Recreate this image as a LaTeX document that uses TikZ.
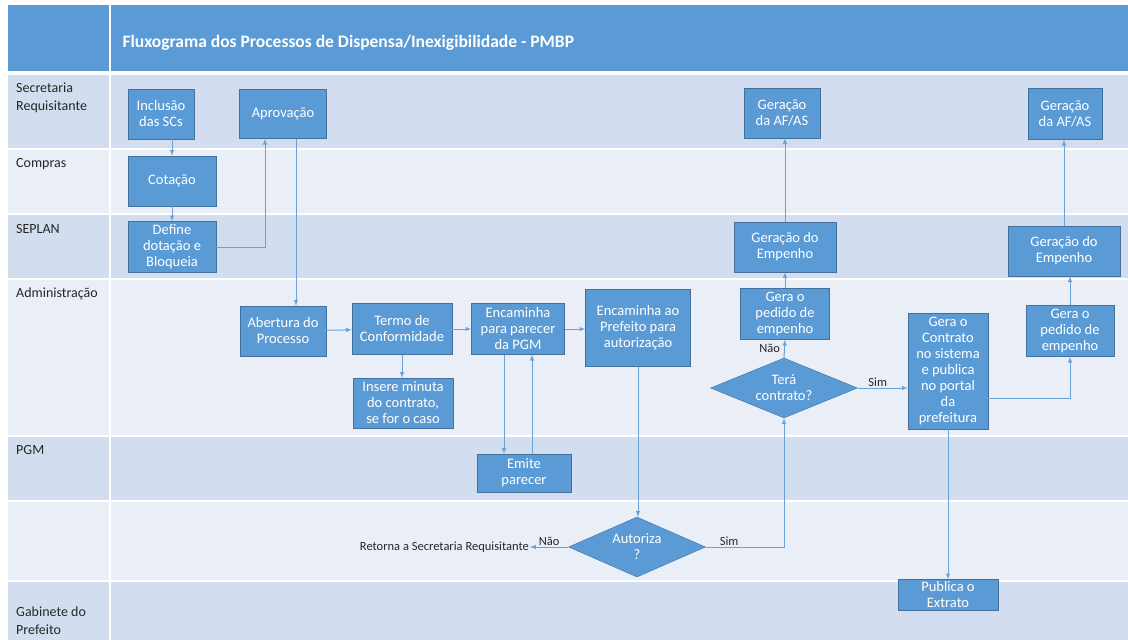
\documentclass[tikz,border=0pt]{standalone}
\usepackage{fontspec}
\setmainfont{Carlito}
\usetikzlibrary{shapes.geometric}

\definecolor{headblue}{HTML}{5B9BD5}
\definecolor{laneDark}{HTML}{D2DEEF}
\definecolor{laneLight}{HTML}{EAEFF7}
\definecolor{boxblue}{HTML}{5B9BD5}
\definecolor{boxline}{HTML}{41719C}
\definecolor{arrowblue}{HTML}{6AA2D8}
\definecolor{labelgray}{HTML}{262626}

\tikzset{
  box/.style={draw=boxline, fill=boxblue, text=white, align=center, inner sep=1pt,
    font=\fontsize{14.5}{16}\selectfont},
  decisao/.style={diamond, aspect=2.4, draw=boxline, fill=boxblue, text=white, align=center,
    inner sep=0pt, font=\fontsize{14.5}{16}\selectfont},
  seta/.style={draw=arrowblue, line width=1pt, -latex},
  lanelabel/.style={anchor=north west, align=left, text=labelgray, inner sep=0pt,
    font=\fontsize{14}{18}\selectfont},
  rotulo/.style={text=labelgray, inner sep=1pt, font=\fontsize{12.5}{14}\selectfont},
}

\begin{document}
\begin{tikzpicture}[x=1pt, y=-1pt]
\useasboundingbox (0,0) rectangle (1128,640);

% Faixas
\fill[headblue] (8,5) rectangle (1128,71);
\fill[laneDark] (8,75) rectangle (1128,148);
\fill[laneLight] (8,150) rectangle (1128,213);
\fill[laneDark] (8,215) rectangle (1128,278);
\fill[laneLight] (8,280) rectangle (1128,435);
\fill[laneDark] (8,437) rectangle (1128,500);
\fill[laneLight] (8,502) rectangle (1128,580);
\fill[laneDark] (8,582) rectangle (1128,640);
\draw[white, line width=2.5pt] (110,5) -- (110,640);

% Titulo e raias
\node[anchor=west, text=white, font=\fontsize{17.5}{20}\selectfont\bfseries] (titulo) at (119,43)
  {Fluxograma dos Processos de Dispensa/Inexigibilidade - PMBP};
\node[lanelabel] (labSecReq) at (16,83) {Secretaria\\Requisitante};
\node[lanelabel] (labCompras) at (16,158) {Compras};
\node[lanelabel] (labSeplan) at (16,224) {SEPLAN};
\node[lanelabel] (labAdm) at (16,288) {Administração};
\node[lanelabel] (labPGM) at (16,445) {PGM};
\node[lanelabel] (labGabinete) at (16,607) {Gabinete do\\Prefeito};

% Caixas
\draw (161,114) node[box, minimum width=66pt, minimum height=50pt] (Inclusao) {Inclusão\\das SCs};
\draw (283,114) node[box, minimum width=87pt, minimum height=49pt] (Aprovacao) {Aprovação};
\draw (172,181) node[box, minimum width=88pt, minimum height=50pt] (Cotacao) {Cotação};
\draw (172,247) node[box, minimum width=88pt, minimum height=51pt] (Define) {Define\\dotação e\\Bloqueia};
\draw (283,331) node[box, minimum width=86pt, minimum height=50pt] (Abertura) {Abertura do\\Processo};
\draw (402,329) node[box, minimum width=100pt, minimum height=51pt] (Termo) {Termo de\\Conformidade};
\draw (518,329) node[box, minimum width=93pt, minimum height=51pt] (EncPGM) {Encaminha\\para parecer\\da PGM};
\draw (638,328) node[box, minimum width=105pt, minimum height=77pt] (EncPrefeito) {Encaminha ao\\Prefeito para\\autorização};
\draw (403,403) node[box, minimum width=100pt, minimum height=50pt] (Insere) {Insere minuta\\do contrato,\\se for o caso};
\draw (524,473) node[box, minimum width=94pt, minimum height=38pt] (Emite) {Emite\\parecer};
\draw (637,547) node[decisao, minimum width=137pt, minimum height=60pt] (Autoriza) {Autoriza\\?};
\draw (530,547) node[rotulo, anchor=east] (Retorna) {Retorna a Secretaria Requisitante};
\draw (784,388) node[decisao, minimum width=147pt, minimum height=60pt] (Tera) {Terá\\contrato?};
\draw (785,314) node[box, minimum width=89pt, minimum height=51pt] (Pedido1) {Gera o\\pedido de\\empenho};
\draw (785,247) node[box, minimum width=102pt, minimum height=50pt] (Empenho1) {Geração do\\Empenho};
\draw (782,113) node[box, minimum width=76pt, minimum height=50pt] (AFAS1) {Geração\\da AF/AS};
\draw (948,371) node[box, minimum width=80pt, minimum height=116pt] (Contrato) {Gera o\\Contrato\\no sistema\\e publica\\no portal\\da\\prefeitura};
\draw (1070,331) node[box, minimum width=88pt, minimum height=51pt] (Pedido2) {Gera o\\pedido de\\empenho};
\draw (1064,251) node[box, minimum width=112pt, minimum height=50pt] (Empenho2) {Geração do\\Empenho};
\draw (1065,114) node[box, minimum width=74pt, minimum height=51pt] (AFAS2) {Geração\\da AF/AS};
\draw (948,595) node[box, minimum width=100pt, minimum height=31pt] (Publica) {Publica o\\Extrato};

% Setas
\draw[seta] (Inclusao.south -| Cotacao.north) -- (Cotacao.north);
\draw[seta] (Cotacao) -- (Define);
\draw[seta] (Define.east) -| ([xshift=-18pt]Aprovacao.south);
\draw[seta] ([xshift=13pt]Aprovacao.south) -- ([xshift=13pt]Aprovacao.south |- Abertura.north);
\draw[seta] (Abertura) -- (Termo);
\draw[seta] (Termo) -- (EncPGM);
\draw[seta] (EncPGM.east) -- (EncPGM.east -| EncPrefeito.west);
\draw[seta] (Termo.south) -- (Insere.north -| Termo.south);
\draw[seta] ([xshift=-14pt]EncPGM.south) -- ([xshift=-14pt]EncPGM.south |- Emite.north);
\draw[seta] ([xshift=8pt]Emite.north) -- ([xshift=8pt]Emite.north |- EncPGM.south);
\draw[seta] (EncPrefeito.south) -- (EncPrefeito.south |- Autoriza.north);
\draw[seta] (Autoriza.west) -- (Retorna.east) node[rotulo, pos=0.5, above] (naoA) {Não};
\draw[seta] (Autoriza.east) -| (Tera.south) node[rotulo, pos=0.15, above] (simA) {Sim};
\draw[seta] (Tera.north) -- (Pedido1.south) node[rotulo, pos=0.5, left=3pt] (naoT) {Não};
\draw[seta] (Pedido1) -- (Empenho1);
\draw[seta] (Empenho1.north) -- (Empenho1.north |- AFAS1.south);
\draw[seta] (Tera.east) -- (Tera.east -| Contrato.west) node[rotulo, pos=0.4, above] (simT) {Sim};
\draw[seta] ([yshift=-27pt]Contrato.east) -| (Pedido2.south);
\draw[seta] (Pedido2.north) -- (Pedido2.north |- Empenho2.south);
\draw[seta] (Empenho2.north) -- (Empenho2.north |- AFAS2.south);
\draw[seta] (Contrato) -- (Publica);

\end{tikzpicture}
\end{document}
